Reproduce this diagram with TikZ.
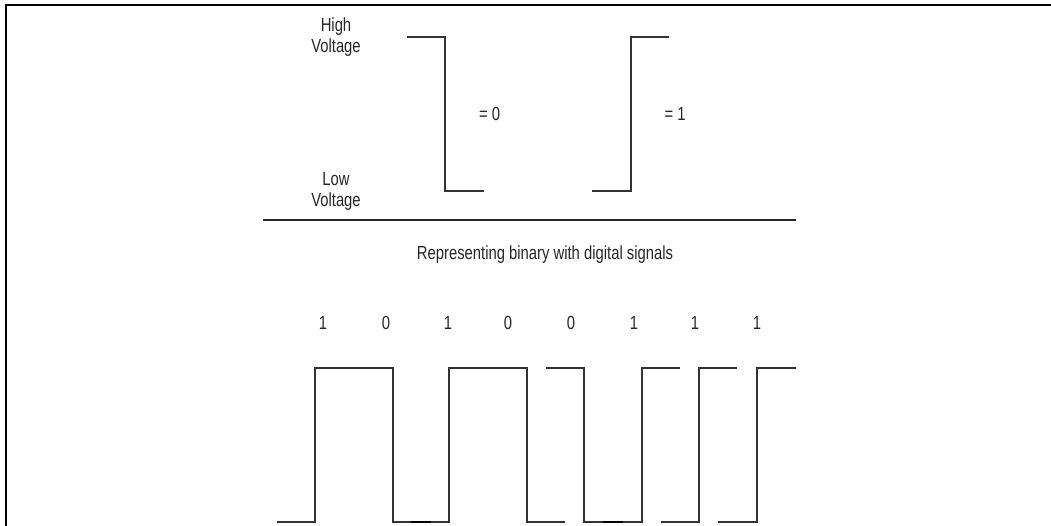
\documentclass[tikz,border=0pt]{standalone}
\usepackage{fontspec}
\setmainfont[FakeStretch=0.78]{Liberation Sans}
\begin{document}
\begin{tikzpicture}[x=1pt,y=-1pt,
  lbl/.style={inner sep=0pt,anchor=base,text=black!85,font=\fontsize{19}{21}\selectfont,align=center},
  wave/.style={draw=black!80,line width=1.1pt,line join=miter},
  frameline/.style={draw=black,line width=2pt}]
\useasboundingbox (0,0) rectangle (1051,526);
% frame
\draw[frameline] (6,526) -- (6,5) -- (1051,5);
% top definitions
\draw[wave] (407,37) -- (445,37) -- (445,191) -- (484,191);
\draw[wave] (592,191) -- (631,191) -- (631,37) -- (669,37);
\node[lbl] (high) at (336,53) {High\\Voltage};
\node[lbl] (low) at (336,207) {Low\\Voltage};
\node[lbl] (zero) at (489.5,121) {= 0};
\node[lbl] (one) at (675,121) {= 1};
\draw[draw=black!85,line width=1.1pt] (263,220) -- (796,220);
\node[lbl] (title) at (545,260) {Representing binary with digital signals};
% digits
\foreach \x/\d [count=\i] in {323/1,386/0,448/1,508/0,571/0,634/1,695/1,757/1}
  \node[lbl] (d\i) at (\x,329) {\d};
% bottom waveform
\draw[wave] (277,522) -- (315,522) -- (315,368) -- (393,368) -- (393,522) -- (449,522)
  -- (449,368) -- (527,368) -- (527,522) -- (565,522);
\draw[wave] (546,368) -- (584,368) -- (584,522) -- (642,522) -- (642,368) -- (680,368);
\draw[wave] (661,522) -- (699,522) -- (699,368) -- (737,368);
\draw[wave] (718,522) -- (757,522) -- (757,368) -- (796,368);
\draw[draw=black,line width=1.6pt] (411,522) -- (431,522);
\draw[draw=black,line width=1.6pt] (603,522) -- (623,522);
\end{tikzpicture}
\end{document}
